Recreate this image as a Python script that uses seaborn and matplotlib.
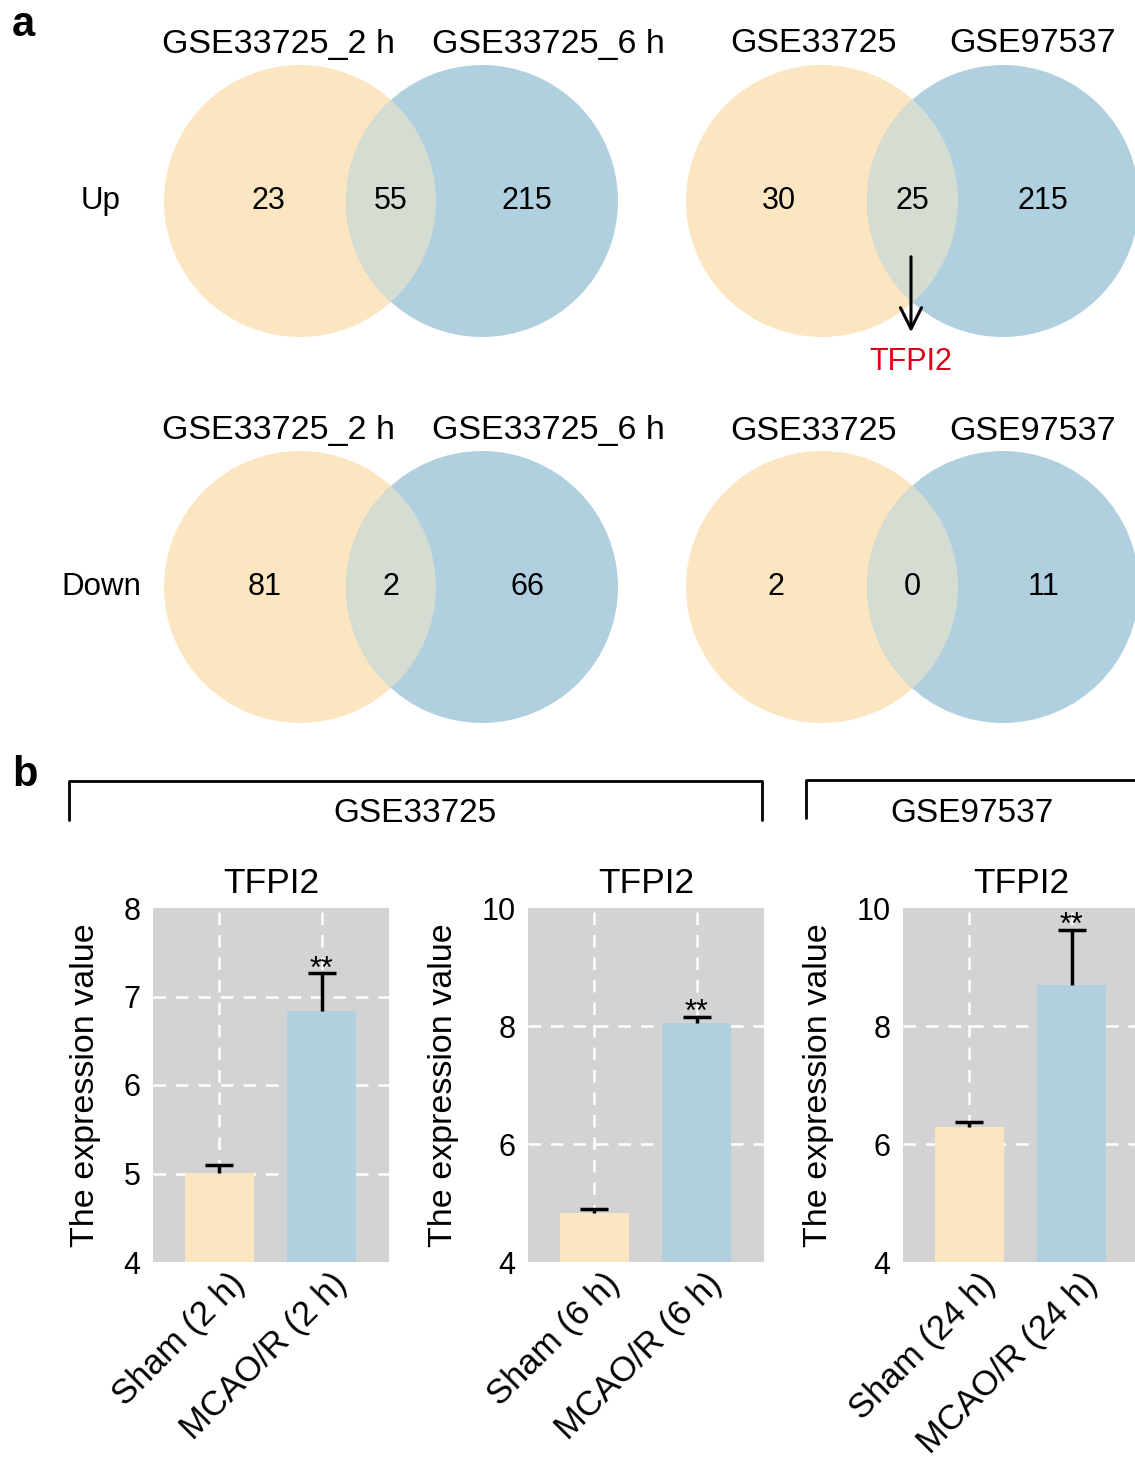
import numpy as np
import pandas as pd
import matplotlib
matplotlib.use("Agg")
import matplotlib.pyplot as plt
from matplotlib.patches import Circle
from matplotlib.transforms import ScaledTranslation
import seaborn as sns

# ---- data ----
venn_titles = [["GSE33725_2 h", "GSE33725_6 h"], ["GSE33725", "GSE97537"]]
up_left = [23, 55, 215]      # 2 h only, shared, 6 h only
up_right = [30, 25, 215]     # GSE33725 only, shared, GSE97537 only
down_left = [81, 2, 66]
down_right = [2, 0, 11]

bar_labels = [["Sham (2 h)", "MCAO/R (2 h)"],
              ["Sham (6 h)", "MCAO/R (6 h)"],
              ["Sham (24 h)", "MCAO/R (24 h)"]]
bar_means = [[5.01, 6.84], [4.83, 8.05], [6.29, 8.69]]
bar_errs = [[0.09, 0.42], [0.07, 0.11], [0.08, 0.94]]
bar_ylims = [(4, 8), (4, 10), (4, 10)]
bar_yticks = [[4, 5, 6, 7, 8], [4, 6, 8, 10], [4, 6, 8, 10]]

YELLOW = "#fce6c1"
BLUE = "#b0d0e0"
OVERLAP = "#d5dcd1"

sns.set_style("darkgrid", {"axes.facecolor": "#d3d3d3", "grid.color": "white",
                           "grid.linestyle": (0, (5, 4)), "text.color": "black",
                           "axes.labelcolor": "black", "xtick.color": "black",
                           "ytick.color": "black"})
plt.rcParams['font.family'] = ['Liberation Sans', 'DejaVu Sans']

W, H = 1135, 1459
fig = plt.figure(figsize=(W / 100, H / 100), dpi=100)

# overlay axes in pixel coords for venn panels and annotations
ov = fig.add_axes([0, 0, 1, 1])
ov.set_xlim(0, W)
ov.set_ylim(H, 0)
ov.axis("off")
ov.patch.set_alpha(0)

R = 136

def venn(cx1, cx2, cy, counts, dl, dr):
    c1 = Circle((cx1, cy), R, color=YELLOW, lw=0)
    c2 = Circle((cx2, cy), R, color=BLUE, lw=0)
    ov.add_patch(c1)
    ov.add_patch(c2)
    c3 = Circle((cx2, cy), R, color=OVERLAP, lw=0)
    ov.add_patch(c3)
    c3.set_clip_path(c1)
    xs = [cx1 - dl, (cx1 + cx2) / 2, cx2 + dr]
    for x, n in zip(xs, counts):
        ov.text(x, cy, str(n), fontsize=22, ha="center", va="center")

venn(300, 482, 201, up_left, 32, 45)
venn(822, 1003, 201, up_right, 43, 40)
venn(300, 482, 587, down_left, 35, 45)
venn(822, 1003, 587, down_right, 46, 40)

for ty in (44, 431):
    for x, t in zip([279, 548], venn_titles[0]):
        ov.text(x, ty, t, fontsize=24.5, ha="center", va="center")
    for x, t in zip([814, 1033], venn_titles[1]):
        ov.text(x, ty, t, fontsize=24.5, ha="center", va="center")

ov.text(101, 201, "Up", fontsize=22.5, ha="center", va="center")
ov.text(101, 587, "Down", fontsize=22.5, ha="center", va="center")

ov.annotate("", xy=(911, 335), xytext=(911, 254),
            arrowprops=dict(arrowstyle="->", color="black", lw=2.2, mutation_scale=38))
ov.text(911, 362, "TFPI2", color="#e0001b", fontsize=22, ha="center", va="center")

ov.text(12, 25, "a", fontsize=30, fontweight="bold", ha="left", va="center")
ov.text(12, 775, "b", fontsize=30, fontweight="bold", ha="left", va="center")

# brackets
ov.plot([69, 69, 762, 762], [820, 781, 781, 820], color="black", lw=2)
ov.plot([806, 806, 1140], [818, 780, 780], color="black", lw=2)
ov.text(415, 813, "GSE33725", fontsize=24, ha="center", va="center")
ov.text(972, 813, "GSE97537", fontsize=24, ha="center", va="center")

# ---- bar panels ----
lefts = [153, 528, 903]
top, bottom, width = 908, 1262, 236
shift = ScaledTranslation(9 / 100, 0, fig.dpi_scale_trans)
for i in range(3):
    ax = fig.add_axes([lefts[i] / W, 1 - bottom / H, width / W, (bottom - top) / H])
    df = pd.DataFrame({"group": bar_labels[i], "value": bar_means[i]})
    sns.barplot(data=df, x="group", y="value", hue="group",
                palette=[YELLOW, BLUE], legend=False, width=0.67, saturation=1,
                errorbar=None, ax=ax, linewidth=0)
    _, caps, _ = ax.errorbar(x=[0, 1], y=bar_means[i], yerr=[[0, 0], bar_errs[i]],
                             fmt="none", ecolor="black", elinewidth=2.5,
                             capsize=10, capthick=2.5)
    caps[0].set_visible(False)
    ax.annotate("**", xy=(1, bar_means[i][1] + bar_errs[i][1]), xytext=(0, 2.5),
                textcoords="offset points", fontsize=22, ha="center", va="center")
    ax.set_xlim(-0.65, 1.66)
    ax.set_ylim(*bar_ylims[i])
    ax.set_yticks(bar_yticks[i])
    ax.grid(True, lw=1.8)
    ax.get_ygridlines()[0].set_visible(False)
    ax.get_ygridlines()[-1].set_visible(False)
    ax.tick_params(axis="y", length=0, labelsize=22, pad=9)
    ax.tick_params(axis="x", length=0, pad=4)
    ax.set_xticks([0, 1])
    ax.set_xticklabels(bar_labels[i], rotation=45, ha="right",
                       rotation_mode="anchor", fontsize=25)
    for lab in ax.get_xticklabels():
        lab.set_transform(lab.get_transform() + shift)
    ax.set_xlabel("")
    ax.set_ylabel("The expression value", fontsize=24.5, labelpad=16)
    ax.set_title("TFPI2", fontsize=25.5, pad=11)
    for s in ax.spines.values():
        s.set_visible(False)

fig.savefig("out.png", dpi=100)
